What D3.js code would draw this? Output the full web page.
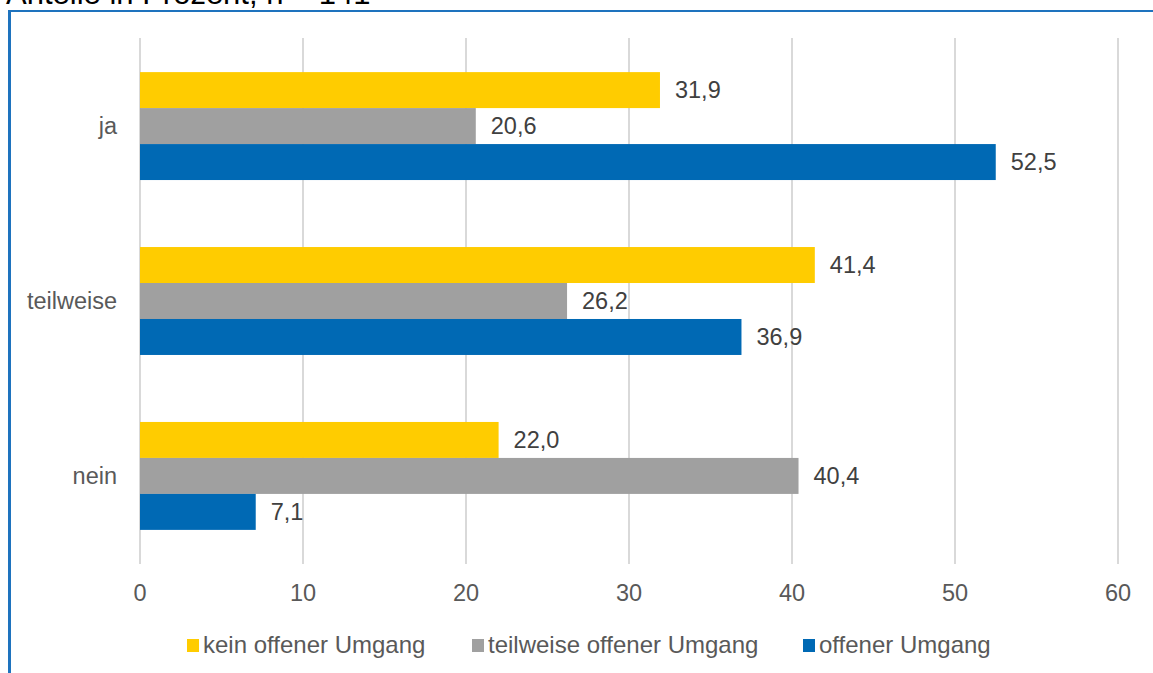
<!DOCTYPE html>
<html>
<head>
<meta charset="utf-8">
<script src="https://cdn.jsdelivr.net/npm/d3@7"></script>
<style>
  body { margin: 0; background: #fff; }
  svg { display: block; font-family: "Liberation Sans", Arial, sans-serif; }
</style>
</head>
<body>
<script>
var categories = ["ja", "teilweise", "nein"];
var seriesNames = ["kein offener Umgang", "teilweise offener Umgang", "offener Umgang"];
var keinOffen = [31.9, 41.4, 22.0];
var teilweiseOffen = [20.6, 26.2, 40.4];
var offen = [52.5, 36.9, 7.1];
var xTicks = [0, 10, 20, 30, 40, 50, 60];
var colors = ["#ffcc00", "#a0a0a0", "#0069b4"];

var w = 1153, h = 673;
var svg = d3.select("body").append("svg")
    .attr("width", w)
    .attr("height", h);

// title, cut off at the top like in the source
svg.append("text")
    .attr("x", 6)
    .attr("y", 4)
    .attr("font-size", 31)
    .attr("fill", "#000")
    .text("Anteile in Prozent, n = 141");

// blue frame
svg.append("line").attr("x1", 8).attr("x2", w).attr("y1", 11).attr("y2", 11)
    .attr("stroke", "#1e73be").attr("stroke-width", 2);
svg.append("line").attr("x1", 9.5).attr("x2", 9.5).attr("y1", 10).attr("y2", h)
    .attr("stroke", "#1e73be").attr("stroke-width", 3);

var x = d3.scaleLinear().domain([0, 60]).range([140, 1118]);
var y0 = d3.scaleBand().domain(categories).range([38, 564])
    .paddingInner(0.383).paddingOuter(0.195);
var y1 = d3.scaleBand().domain(d3.range(3)).range([0, y0.bandwidth()]);

// grid
svg.selectAll(".grid")
    .data(xTicks)
    .enter()
    .append("line")
    .attr("x1", function(d) { return x(d); })
    .attr("x2", function(d) { return x(d); })
    .attr("y1", 38)
    .attr("y2", 564)
    .attr("stroke", "#d9d9d9")
    .attr("stroke-width", 2);

var rows = categories.map(function(c, i) {
    return [keinOffen[i], teilweiseOffen[i], offen[i]];
});

var groups = svg.selectAll(".group")
    .data(rows)
    .enter()
    .append("g")
    .attr("transform", function(d, i) { return "translate(0," + y0(categories[i]) + ")"; });

groups.selectAll("rect")
    .data(function(d) { return d; })
    .enter()
    .append("rect")
    .attr("x", x(0))
    .attr("y", function(d, j) { return y1(j); })
    .attr("width", function(d) { return x(d) - x(0); })
    .attr("height", y1.bandwidth())
    .attr("fill", function(d, j) { return colors[j]; });

groups.selectAll(".lbl")
    .data(function(d) { return d; })
    .enter()
    .append("text")
    .attr("x", function(d) { return x(d) + 15; })
    .attr("y", function(d, j) { return y1(j) + y1.bandwidth() / 2; })
    .attr("dy", "0.35em")
    .attr("font-size", 23.5)
    .attr("fill", "#404040")
    .text(function(d) { return d.toFixed(1).replace(".", ","); });

// category labels
svg.selectAll(".cat")
    .data(categories)
    .enter()
    .append("text")
    .attr("x", 117)
    .attr("y", function(d) { return y0(d) + y0.bandwidth() / 2; })
    .attr("dy", "0.35em")
    .attr("text-anchor", "end")
    .attr("font-size", 23.5)
    .attr("fill", "#595959")
    .text(function(d) { return d; });

// x axis labels
svg.selectAll(".tick")
    .data(xTicks)
    .enter()
    .append("text")
    .attr("x", function(d) { return x(d); })
    .attr("y", 593)
    .attr("dy", "0.35em")
    .attr("text-anchor", "middle")
    .attr("font-size", 23.5)
    .attr("fill", "#595959")
    .text(function(d) { return d; });

// legend
var legendX = [187, 472, 803];
var legend = svg.selectAll(".legend")
    .data(seriesNames)
    .enter()
    .append("g")
    .attr("transform", function(d, i) { return "translate(" + legendX[i] + ",645)"; });
legend.append("rect")
    .attr("x", 0).attr("y", -6)
    .attr("width", 12).attr("height", 13)
    .attr("fill", function(d, i) { return colors[i]; });
legend.append("text")
    .attr("x", 16)
    .attr("dy", "0.35em")
    .attr("font-size", 24)
    .attr("fill", "#595959")
    .text(function(d) { return d; });
</script>
</body>
</html>
